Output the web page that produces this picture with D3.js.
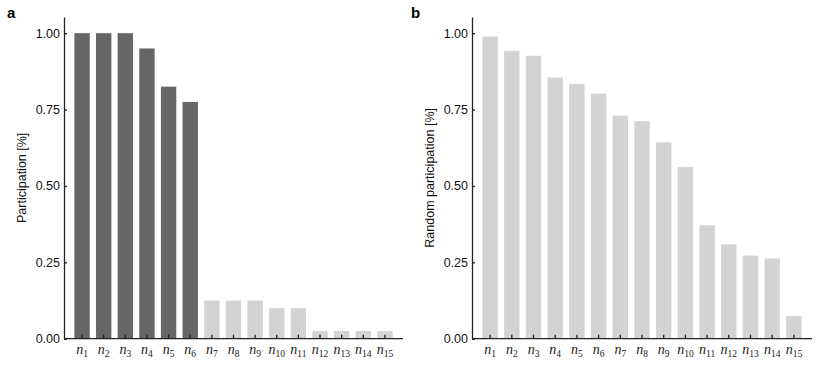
<!DOCTYPE html>
<html>
<head>
<meta charset="utf-8">
<script src="https://cdnjs.cloudflare.com/ajax/libs/d3/7.8.5/d3.min.js"></script>
<style>
  body { margin: 0; background: #fff; }
  svg { display: block; }
  .axis text { font-family: "Liberation Sans", Arial, sans-serif; font-size: 12.5px; fill: #111; }
  .axis path, .axis line { stroke: #222; stroke-width: 1.3px; }
  .ylabel { font-family: "Liberation Sans", Arial, sans-serif; font-size: 12.5px; fill: #111; }
  .panel { font-family: "Liberation Sans", Arial, sans-serif; font-size: 15px; font-weight: bold; fill: #000; }
  .nlabel { font-family: "Liberation Serif", "DejaVu Serif", serif; fill: #222; }
</style>
</head>
<body>
<svg id="chart" width="831" height="367"></svg>
<script>
var nodes = d3.range(1, 16);
var participation = [1.0, 1.0, 1.0, 0.95, 0.825, 0.775, 0.125, 0.125, 0.125, 0.1, 0.1, 0.025, 0.025, 0.025, 0.025];
var randomParticipation = [0.989, 0.942, 0.926, 0.855, 0.834, 0.802, 0.730, 0.712, 0.643, 0.562, 0.371, 0.309, 0.272, 0.263, 0.074];
var activeCount = 6;
var yTicks = [0, 0.25, 0.5, 0.75, 1.0];

var svg = d3.select("#chart");

function drawPanel(opts) {
  var left = opts.left, right = opts.right;
  var top = 17, bottom = 338.7;

  var x = d3.scaleBand()
    .domain(nodes)
    .range([left, right])
    .paddingInner(0.29)
    .paddingOuter(0.48);

  var y = d3.scaleLinear()
    .domain([0, 1.053])
    .range([bottom, top]);

  var g = svg.append("g").attr("class", "panel-" + opts.name);

  // bars
  g.selectAll("rect.bar")
    .data(opts.values)
    .enter()
    .append("rect")
    .attr("class", "bar")
    .attr("x", function (d, i) { return x(nodes[i]); })
    .attr("width", x.bandwidth())
    .attr("y", function (d) { return y(d); })
    .attr("height", function (d) { return bottom - y(d); })
    .style("fill", function (d, i) { return opts.color(i); });

  // y axis, inward ticks
  var yAxis = d3.axisLeft(y)
    .tickValues(yTicks)
    .tickFormat(d3.format(".2f"))
    .tickSizeInner(-3)
    .tickSizeOuter(0)
    .tickPadding(4);
  g.append("g")
    .attr("class", "axis")
    .attr("transform", "translate(" + left + ",0)")
    .call(yAxis);

  // x axis, inward ticks, custom labels
  var xAxis = d3.axisBottom(x)
    .tickSizeInner(-4)
    .tickSizeOuter(0)
    .tickFormat("");
  var xg = g.append("g")
    .attr("class", "axis")
    .attr("transform", "translate(0," + bottom + ")")
    .call(xAxis);
  xg.select("path.domain").attr("d", "M" + left + ",0H" + right);

  var labels = g.selectAll("text.nlabel")
    .data(nodes)
    .enter()
    .append("text")
    .attr("class", "nlabel")
    .attr("x", function (d) { return x(d) + x.bandwidth() / 2; })
    .attr("y", 354)
    .attr("text-anchor", "middle");
  labels.append("tspan")
    .style("font-style", "italic")
    .style("font-size", "14px")
    .text("n");
  labels.append("tspan")
    .style("font-size", "9.5px")
    .attr("dy", 3)
    .text(function (d) { return d; });

  // y label, centred on the axis
  svg.append("text")
    .attr("class", "ylabel")
    .attr("transform", "translate(" + opts.labelX + "," + ((top + bottom) / 2) + ") rotate(-90)")
    .attr("text-anchor", "middle")
    .text(opts.ylabel);

  // panel letter
  svg.append("text")
    .attr("class", "panel")
    .attr("x", opts.letterX)
    .attr("y", 18)
    .text(opts.name);
}

drawPanel({
  name: "a",
  left: 64, right: 403,
  values: participation,
  color: function (i) { return i < activeCount ? "#666666" : "#d3d3d3"; },
  ylabel: "Participation [%]",
  labelX: 25.5,
  letterX: 7
});

drawPanel({
  name: "b",
  left: 472, right: 812,
  values: randomParticipation,
  color: function () { return "#d3d3d3"; },
  ylabel: "Random participation [%]",
  labelX: 434,
  letterX: 411
});
</script>
</body>
</html>
